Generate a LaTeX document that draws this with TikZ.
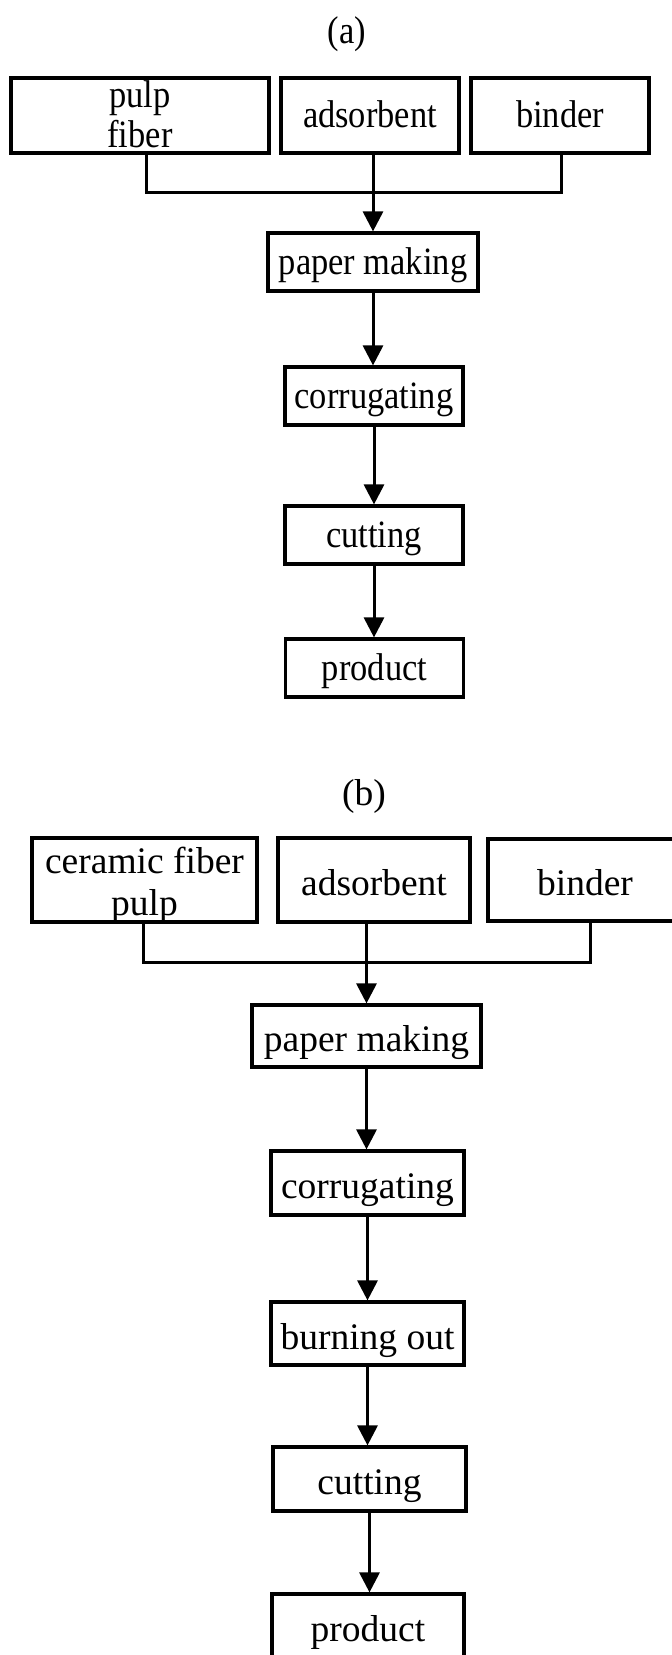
\documentclass[tikz,border=0pt]{standalone}
\usepackage{fontspec}
\setmainfont{Liberation Serif}
\newfontfamily\famA[FakeStretch=0.89]{Liberation Serif}
\usetikzlibrary{arrows.meta}
\begin{document}
\begin{tikzpicture}[x=1pt,y=-1pt,
  box/.style={draw, rectangle, line width=3.2pt, inner sep=0pt},
  fA/.style={font=\famA\fontsize{38.7pt}{40pt}\selectfont, text height=24pt, text depth=0pt},
  fB/.style={font=\fontsize{37.5pt}{42pt}\selectfont, text height=31pt, text depth=0pt},
  conn/.style={line width=3pt},
  arr/.style={conn, -{Triangle[length=20pt,width=20pt]}},
]
\useasboundingbox (0,0) rectangle (672,1655);

% ---------------- (a) ----------------
\node[fA, anchor=base, text height=, text depth=] (labA) at (347,43) {(a)};
\node[box, fA, minimum width=258pt, minimum height=75pt, text height=0pt, text depth=17pt] (pulpA) at (140,115.5)
  {\begin{tabular}[t]{@{}c@{}}pulp\\fiber\end{tabular}};
\node[box, fA, minimum width=178pt, minimum height=75pt] (adsA) at (370,115.5) {adsorbent};
\node[box, fA, minimum width=178pt, minimum height=75pt] (binA) at (560,115.5) {binder};
\node[box, fA, minimum width=210pt, minimum height=58pt] (pmA) at (373,262) {paper making};
\node[box, fA, minimum width=178pt, minimum height=58pt] (corA) at (374,396) {corrugating};
\node[box, fA, minimum width=178pt, minimum height=58pt] (cutA) at (374,535) {cutting};
\node[box, fA, minimum width=178pt, minimum height=58pt] (prodA) at (374.5,668) {product};

\coordinate (jA) at (371,192);
\draw[conn] ([xshift=6pt]pulpA.south) |- (jA) -| ([xshift=1pt]binA.south);
\draw[arr] (adsA.south -| pmA.north) -- (pmA.north);
\draw[arr] (pmA.south) -- (pmA.south |- corA.north);
\draw[arr] (corA.south) -- (corA.south |- cutA.north);
\draw[arr] (cutA.south) -- (cutA.south |- prodA.north);

% ---------------- (b) ----------------
\node[fB, anchor=base, text height=, text depth=] (labB) at (364,805) {(b)};
\node[box, fB, minimum width=225pt, minimum height=84pt, text height=0pt, text depth=14pt] (cerB) at (144.5,880)
  {\begin{tabular}[t]{@{}c@{}}ceramic fiber\\pulp\end{tabular}};
\node[box, fB, minimum width=192pt, minimum height=84pt] (adsB) at (374,880) {adsorbent};
\node[box, fB, minimum width=194pt, minimum height=82pt] (binB) at (585,880) {binder};
\node[box, fB, minimum width=229pt, minimum height=62pt] (pmB) at (366.5,1036) {paper making};
\node[box, fB, minimum width=193pt, minimum height=64pt] (corB) at (367.5,1183) {corrugating};
\node[box, fB, minimum width=193pt, minimum height=63pt] (burnB) at (367.5,1333.5) {burning out};
\node[box, fB, minimum width=193pt, minimum height=64pt] (cutB) at (369.5,1479) {cutting};
\node[box, fB, minimum width=192pt, minimum height=63pt] (prodB) at (368,1625.5) {product};

\coordinate (jB) at (367,962);
\draw[conn] ([xshift=-1.5pt]cerB.south) |- (jB) -| ([xshift=5pt]binB.south);
\draw[arr] (adsB.south -| pmB.north) -- (pmB.north);
\draw[arr] (pmB.south) -- (pmB.south |- corB.north);
\draw[arr] (corB.south) -- (corB.south |- burnB.north);
\draw[arr] (burnB.south) -- (burnB.south |- cutB.north);
\draw[arr] (cutB.south) -- (cutB.south |- prodB.north);
\end{tikzpicture}
\end{document}
